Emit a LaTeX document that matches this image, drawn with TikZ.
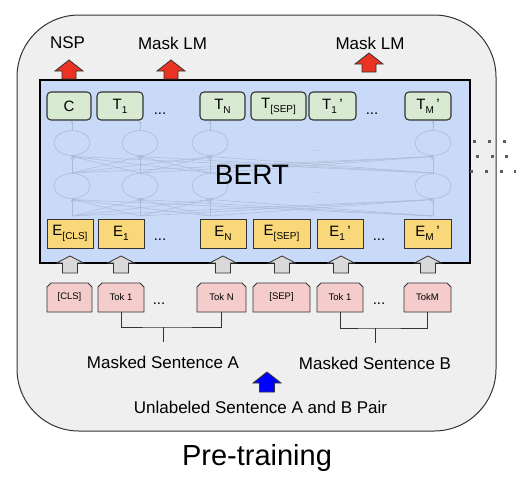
\documentclass[tikz,border=0pt]{standalone}
\usepackage{fontspec}
\setmainfont{Liberation Sans}
\usetikzlibrary{shapes.geometric,arrows.meta}
\definecolor{outerbg}{HTML}{EFEFEF}
\definecolor{bertbg}{HTML}{C9DAF8}
\definecolor{tgreen}{HTML}{D9EAD3}
\definecolor{eyellow}{HTML}{F9D87A}
\definecolor{tokpink}{HTML}{F4CCCC}
\definecolor{arrgray}{HTML}{D9D9D9}
\definecolor{arrred}{HTML}{EA3323}
\definecolor{arrblue}{HTML}{0000FF}
\definecolor{faintc}{HTML}{AEBAD2}
\definecolor{edgec}{HTML}{333333}
\newcommand\sbs[1]{\raisebox{-0.5ex}{\fontsize{10}{10}\selectfont #1}}
\newcommand\blockup[7]{%
  \draw[#1] (#2,#3) -- (#2+#6,#4) -- (#2+#7,#4) -- (#2+#7,#5) -- (#2-#7,#5) -- (#2-#7,#4) -- (#2-#6,#4) -- cycle;}
\newcommand\tokshape[4]{%
  \draw[tokst] (#2-#3,312) -- (#2-#3,287) -- (#2-#3+4,283) -- (#2+#3-4,283) -- (#2+#3,287) -- (#2+#3,312) -- cycle;
  \node[toktext,minimum width=2*#3] (#1) at (#2,297.5) {#4};}
\begin{document}
\begin{tikzpicture}[x=1pt,y=-1pt,
  tbox/.style={draw=edgec,line width=1.1pt,fill=tgreen,rounded corners=4pt,minimum height=28pt,inner sep=0pt,font=\fontsize{15}{15}\selectfont},
  ebox/.style={draw=edgec,line width=1pt,fill=eyellow,minimum height=29pt,inner sep=0pt,font=\fontsize{15}{15}\selectfont},
  tokst/.style={draw=edgec,line width=0.9pt,fill=tokpink},
  toktext/.style={minimum height=29pt,inner sep=0pt,font=\fontsize{9.5}{10}\selectfont},
  lbl/.style={inner sep=0pt,font=\fontsize{17}{17}\selectfont},
  dotsty/.style={inner sep=0pt,anchor=base,font=\fontsize{15}{15}\selectfont},
  faint/.style={draw=faintc,line width=0.5pt},
  faintarr/.style={faint,-{Stealth[length=3pt,width=3pt]}},
  faintell/.style={ellipse,draw=faintc,line width=0.6pt,minimum width=36pt,minimum height=25pt,inner sep=0pt},
  garrow/.style={draw=edgec,line width=0.8pt,fill=arrgray},
  rarrow/.style={draw=edgec,line width=0.8pt,fill=arrred},
  barrow/.style={draw=edgec,line width=0.8pt,fill=arrblue},
  bracket/.style={draw=edgec,line width=1pt}]
\useasboundingbox (0,0) rectangle (516,490);
% outer panel
\draw[draw=edgec,line width=1pt,fill=outerbg,rounded corners=62pt] (17,15) rectangle (496,431);
% BERT box
\draw[draw=black,line width=2.6pt,fill=bertbg] (40,80) rectangle (470,263);
% faint network
\foreach \x [count=\i] in {72,140,210,433} {
  \node[faintell] (ua\i) at (\x,143) {};
  \node[faintell] (la\i) at (\x,186) {};
  \draw[faintarr] (ua\i.north) -- (\x,120.5);
}
\foreach \a in {72,140,210,433} {
  \foreach \b in {72,140,210,433} {
    \draw[faintarr] (\a,216) -- (\b,199.5);
    \draw[faintarr] (\a,173) -- (\b,156.5);
  }
}
\node[inner sep=0pt,text=faintc,font=\fontsize{9}{9}\selectfont] (fd1) at (317,151) {...};
\node[inner sep=0pt,text=faintc,font=\fontsize{9}{9}\selectfont] (fd2) at (317,193) {...};
% BERT label
\node[inner sep=0pt,font=\fontsize{28}{28}\selectfont] (bert) at (252,175) {BERT};
% T boxes
\node[tbox,minimum width=44pt] (tc) at (69,106) {C};
\node[tbox,minimum width=46pt] (t1) at (120,106) {T\sbs{1}};
\node[tbox,minimum width=45pt] (tn) at (222.5,106) {T\sbs{N}};
\node[tbox,minimum width=55pt] (tsep) at (278.5,106) {T\sbs{[SEP]}};
\node[tbox,minimum width=47pt] (t1b) at (332.5,106) {T\sbs{1}\,'};
\node[tbox,minimum width=46pt] (tmb) at (428,106) {T\sbs{M}\,'};
\node[dotsty] (tdA) at (160,114) {...};
\node[dotsty] (tdB) at (372,114) {...};
% E boxes
\node[ebox,minimum width=46pt] (ecls) at (70,233.5) {E\sbs{[CLS]}};
\node[ebox,minimum width=46pt] (e1) at (121,233.5) {E\sbs{1}};
\node[ebox,minimum width=46pt] (en) at (223,233.5) {E\sbs{N}};
\node[ebox,minimum width=57pt] (esep) at (281.5,233.5) {E\sbs{[SEP]}};
\node[ebox,minimum width=46pt] (e1b) at (340,233.5) {E\sbs{1}\,'};
\node[ebox,minimum width=47pt] (emb) at (427.5,233.5) {E\sbs{M}\,'};
\node[dotsty] (edA) at (160,240) {...};
\node[dotsty] (edB) at (379,240) {...};
% gray input arrows
\foreach \x in {70,121,223,282,341,428} {
  \blockup{garrow}{\x}{256}{263}{273}{13.5}{7.5}
}
% token boxes
\tokshape{kcls}{69.5}{22.5}{[CLS]}
\tokshape{ka1}{121}{23}{Tok 1}
\tokshape{kan}{221.5}{24.5}{Tok N}
\tokshape{ksep}{281.5}{28.5}{[SEP]}
\tokshape{kb1}{340}{23}{Tok 1}
\tokshape{kbm}{427.5}{23.5}{TokM}
\node[dotsty] (kdA) at (159,304) {...};
\node[dotsty] (kdB) at (379,304) {...};
% brackets
\coordinate (brA) at (163,327);
\coordinate (stA) at (163,342);
\coordinate (brB) at (375,328);
\coordinate (stB) at (375,343);
\draw[bracket] (ka1.south) |- (brA) -| (kan.south);
\draw[bracket] (brA) -- (stA);
\draw[bracket] (kb1.south) |- (brB) -| (kbm.south);
\draw[bracket] (brB) -- (stB);
\node[lbl] (msa) at (163,362) {Masked Sentence A};
\node[lbl] (msb) at (375,363) {Masked Sentence B};
% blue arrow and pair label
\blockup{barrow}{267}{372}{383}{392}{14}{7.5}
\node[lbl] (pair) at (260.5,407) {Unlabeled Sentence A and B Pair};
% top outputs
\blockup{rarrow}{69}{60}{71}{79}{14}{7}
\blockup{rarrow}{171}{60}{71}{79}{14}{7}
\blockup{rarrow}{369}{53}{64}{72}{14}{7}
\node[lbl] (nsp) at (67.5,43) {NSP};
\node[lbl] (mlm1) at (172.5,43) {Mask LM};
\node[lbl] (mlm2) at (370,43) {Mask LM};
% right-side dots
\foreach \x in {474,489,504} \fill[edgec!80] (\x-1.5,139.5) rectangle (\x+1.5,142.5);
\foreach \x in {477,492,506} \fill[edgec!80] (\x-1.5,154.5) rectangle (\x+1.5,157.5);
\foreach \x in {471,486,501,515} \fill[edgec!80] (\x-1.5,169.5) rectangle (\x+1.5,172.5);
% caption
\node[inner sep=0pt,font=\fontsize{29}{29}\selectfont] (cap) at (257,458) {Pre-training};
\end{tikzpicture}
\end{document}
